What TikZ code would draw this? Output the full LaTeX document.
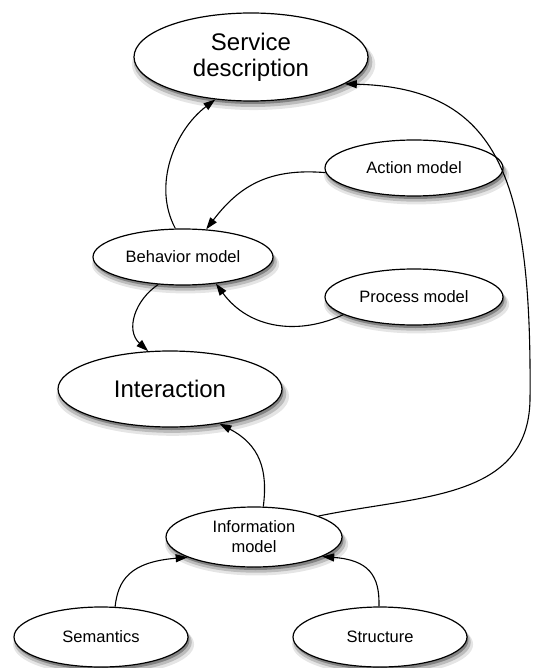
\documentclass[tikz,border=0pt]{standalone}
\usepackage{fontspec}
\setmainfont{Liberation Sans}
\usetikzlibrary{shapes.geometric,arrows.meta,shadows}
\begin{document}
\begin{tikzpicture}[x=1pt,y=-1pt,
  oval/.style={ellipse, draw=black, line width=1.2pt, fill=white, inner sep=0pt,
    general shadow={fill=black, opacity=0.10, shadow xshift=2.5pt, shadow yshift=-7pt, shadow scale=1.04},
    general shadow={fill=black, opacity=0.18, shadow xshift=2pt, shadow yshift=-5pt, shadow scale=1.02},
    drop shadow={fill=black, opacity=0.30, shadow xshift=1.5pt, shadow yshift=-3pt},
    align=center},
  big/.style={oval, font=\fontsize{24}{26}\selectfont},
  small/.style={oval, font=\fontsize{16.5}{20}\selectfont},
  link/.style={line width=1.1pt, -{Triangle[length=12pt,width=8pt]}}
]
\useasboundingbox (0,0) rectangle (536,668);

\node[big, minimum width=234pt, minimum height=88pt] (sd) at (251,57) {Service\\description};
\node[small, minimum width=178pt, minimum height=56pt] (act) at (414,168) {Action model};
\node[small, minimum width=180pt, minimum height=56pt] (beh) at (183,257) {Behavior model};
\node[small, minimum width=178pt, minimum height=56pt] (proc) at (414,297) {Process model};
\node[big, minimum width=224pt, minimum height=76pt] (int) at (170,389) {Interaction};
\node[small, minimum width=176pt, minimum height=60pt] (info) at (254,537) {Information\\model};
\node[small, minimum width=174pt, minimum height=60pt] (sem) at (101,637) {Semantics};
\node[small, minimum width=174pt, minimum height=60pt] (str) at (380,637) {Structure};

\draw[link] (beh.105) .. controls (152,185) and (175,130) .. (sd.230);
\draw[link] (act.183) .. controls (270,168) and (240,185) .. (beh.50);
\draw[link] (proc.194) .. controls (300,335) and (250,330) .. (beh.321);
\draw[link] (beh.228) .. controls (135,300) and (125,330) .. (int.120);
\draw[link] (info.73) .. controls (268,470) and (260,445) .. (int.325);
\draw[link] (info.18) .. controls (420,495) and (528,500) .. (530,400)
  .. controls (532,180) and (500,88) .. (sd.344);
\draw[link] (sem.65) .. controls (118,580) and (130,562) .. (info.197);
\draw[link] (str.92) .. controls (380,575) and (368,560) .. (info.344);
\end{tikzpicture}
\end{document}
